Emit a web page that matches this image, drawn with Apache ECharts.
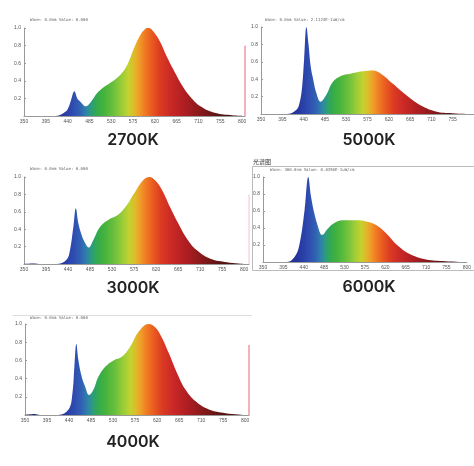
<!DOCTYPE html>
<html><head><meta charset="utf-8">
<script src="https://cdn.jsdelivr.net/npm/echarts@6/dist/echarts.min.js"></script>
<style>html,body{margin:0;padding:0;background:#fff}#c{width:474px;height:466px}</style>
</head><body><div id="c"></div>
<script>
// ---- data ----
const panelNames = ['2700K','5000K','3000K','6000K','4000K'];
const xTicks = [350,395,440,485,530,575,620,665,710,755,800];
const yTicks = [0.2,0.4,0.6,0.8,1.0];

const wl2700 = [350,380,416,436,442,447,454,460,465,470,477,488,501,515,529,549,563,577,590,600,607,617,631,645,659,676,693,714,741,775,800];
const v2700  = [0,0,0,0.05,0.10,0.18,0.28,0.20,0.17,0.14,0.11,0.16,0.26,0.33,0.38,0.47,0.58,0.77,0.92,0.99,1.0,0.96,0.84,0.67,0.52,0.35,0.22,0.11,0.04,0.01,0];

const wl5000 = [350,404,425,432,437,441,446,450,455,459,467,476,488,502,520,537,565,586,604,628,656,684,719,754,800];
const v5000  = [0,0,0.05,0.14,0.32,0.62,1.0,0.82,0.55,0.43,0.24,0.14,0.22,0.37,0.44,0.46,0.49,0.50,0.46,0.35,0.22,0.11,0.03,0.01,0];

const wl3000 = [350,370,380,416,437,444,451,456,461,468,475,482,492,506,523,541,558,575,593,606,620,634,648,665,682,703,731,765,800];
const v3000  = [0,0.005,0,0,0.05,0.16,0.43,0.64,0.47,0.33,0.24,0.19,0.28,0.43,0.51,0.56,0.66,0.81,0.96,1.0,0.95,0.83,0.66,0.47,0.30,0.16,0.06,0.02,0];

const wl6000 = [350,403,421,431,442,450,456,463,470,477,481,491,505,526,555,583,604,625,646,675,710,752,800];
const v6000  = [0,0,0.07,0.22,0.62,1.0,0.77,0.58,0.44,0.33,0.32,0.38,0.45,0.49,0.49,0.47,0.42,0.32,0.20,0.09,0.03,0.01,0];

const wl4000 = [350,370,380,418,439,447,451,455,459,466,473,481,490,500,514,531,548,565,583,603,617,630,644,661,678,699,726,760,800];
const v4000  = [0,0.01,0,0,0.06,0.24,0.53,0.78,0.61,0.42,0.31,0.22,0.28,0.42,0.53,0.60,0.64,0.75,0.92,1.0,0.96,0.85,0.68,0.46,0.28,0.15,0.06,0.02,0];

// cursor marker lines at right edge [wavelength, value]
const cursor2700 = [806, 0.8];
const cursor3000 = [810, 0.8];
const cursor4000 = [808, 0.77];

const headers = ['Wave: 0.0nm Value: 0.000','Wave: 0.0nm Value: 2.1124E-1uW/cm','Wave: 0.0nm Value: 0.000','Wave: 300.0nm Value: 0.0356E-1uW/cm','Wave: 0.0nm Value: 0.000'];

// spectral gradient
const gradNm = [350,400,430,450,465,478,488,500,515,535,552,566,578,588,598,612,630,650,680,710,750,800];
const gradCol = ['#1c2670','#1f2a86','#2638a2','#2e4bb0','#3160b4','#2f82aa','#2c9c7c','#33aa4c','#45b33c','#6cc03c','#9ccd38','#c4d22e','#e0b82a','#f09a28','#f07e24','#ea5e20','#dc3c22','#cc2a26','#b01e22','#8c1a1c','#5c1414','#3a0e0e'];

// ---- layout ----
const grids = [
  {left:24, top:28, width:221, height:88},
  {left:261, top:27, width:214, height:87},
  {left:24, top:177, width:225, height:87},
  {left:263, top:177, width:213, height:85},
  {left:25, top:324, width:224, height:91}
];
const xMax = [806, 800, 810, 800, 808];
const titlePos = [[133,140],[369,140],[133,288],[369,287],[133,442]];
const headerPos = [[30,20],[265,20],[30,169],[270,170],[30,318]];

const stops = gradNm.map((n,i)=>({offset:(n-350)/450, color:gradCol[i]}));
function zip(a,b){return a.map((x,i)=>[x,b[i]]);}
const datas = [zip(wl2700,v2700), zip(wl5000,v5000), zip(wl3000,v3000), zip(wl6000,v6000), zip(wl4000,v4000)];

const chart = echarts.init(document.getElementById('c'), null, {renderer:'canvas'});
const xAxis = [], yAxis = [], series = [];
grids.forEach((g,i)=>{
  xAxis.push({type:'value', gridIndex:i, min:350, max:xMax[i], interval:45,
    axisLine:{lineStyle:{color:'#999', width:1}}, axisTick:{show:false}, splitLine:{show:false},
    axisLabel:{fontSize:5, color:'#555', margin:3, showMaxLabel: i===1 ? false : (xMax[i]===800),
      formatter: v => (xTicks.indexOf(v) >= 0 ? String(v) : '')}});
  yAxis.push({type:'value', gridIndex:i, min:0, max:1, interval:0.2,
    axisLine:{show:true, lineStyle:{color:'#999', width:1}}, axisTick:{show:true, inside:true, length:2, lineStyle:{color:'#999'}},
    splitLine:{show:false},
    axisLabel:{fontSize:5, color:'#555', margin:3, formatter: v => (v < 0.1 ? '' : v.toFixed(1))}});
  series.push({type:'line', xAxisIndex:i, yAxisIndex:i, data:datas[i], symbol:'none', smooth:0.4,
    lineStyle:{width:0, opacity:0}, areaStyle:{opacity:1, color:new echarts.graphic.LinearGradient(0,0,1,0,stops)}, silent:true, z:2});
});
const cursors = [[0,cursor2700,'#e8607a'],[2,cursor3000,'#f6c4cc'],[4,cursor4000,'#e8607a']];
cursors.forEach(([i,c,col])=>{
  series.push({type:'line', xAxisIndex:i, yAxisIndex:i, data:[[c[0],0],[c[0],c[1]]], symbol:'none',
    lineStyle:{width:1, color:col}, clip:false, silent:true, z:3});
});

const graphic = [];
panelNames.forEach((n,i)=>{
  graphic.push({type:'text', x:titlePos[i][0], y:titlePos[i][1], style:{text:n, fontSize:16, fontWeight:600,
    fontFamily:'Inter, "Noto Sans", sans-serif', fill:'#222', align:'center', verticalAlign:'middle'}});
  graphic.push({type:'text', x:headerPos[i][0], y:headerPos[i][1], style:{text:headers[i], fontSize:4,
    fontFamily:'"DejaVu Sans Mono", monospace', fill:'#666', align:'left', verticalAlign:'middle'}});
});
// 6000K frame and label
graphic.push({type:'rect', shape:{x:252.5, y:166.5, width:230, height:104}, style:{fill:null, stroke:'#bbb', lineWidth:1}, z:-1});
graphic.push({type:'text', x:253, y:162, style:{text:'光谱图', fontSize:6, fontFamily:'"Noto Sans CJK SC", sans-serif', fill:'#333', verticalAlign:'middle'}});
// 4000K header rule
graphic.push({type:'line', shape:{x1:13, y1:315.5, x2:252, y2:315.5}, style:{stroke:'#ddd', lineWidth:1}});

chart.setOption({animation:false, grid:grids, xAxis, yAxis, series, graphic});
</script></body></html>
